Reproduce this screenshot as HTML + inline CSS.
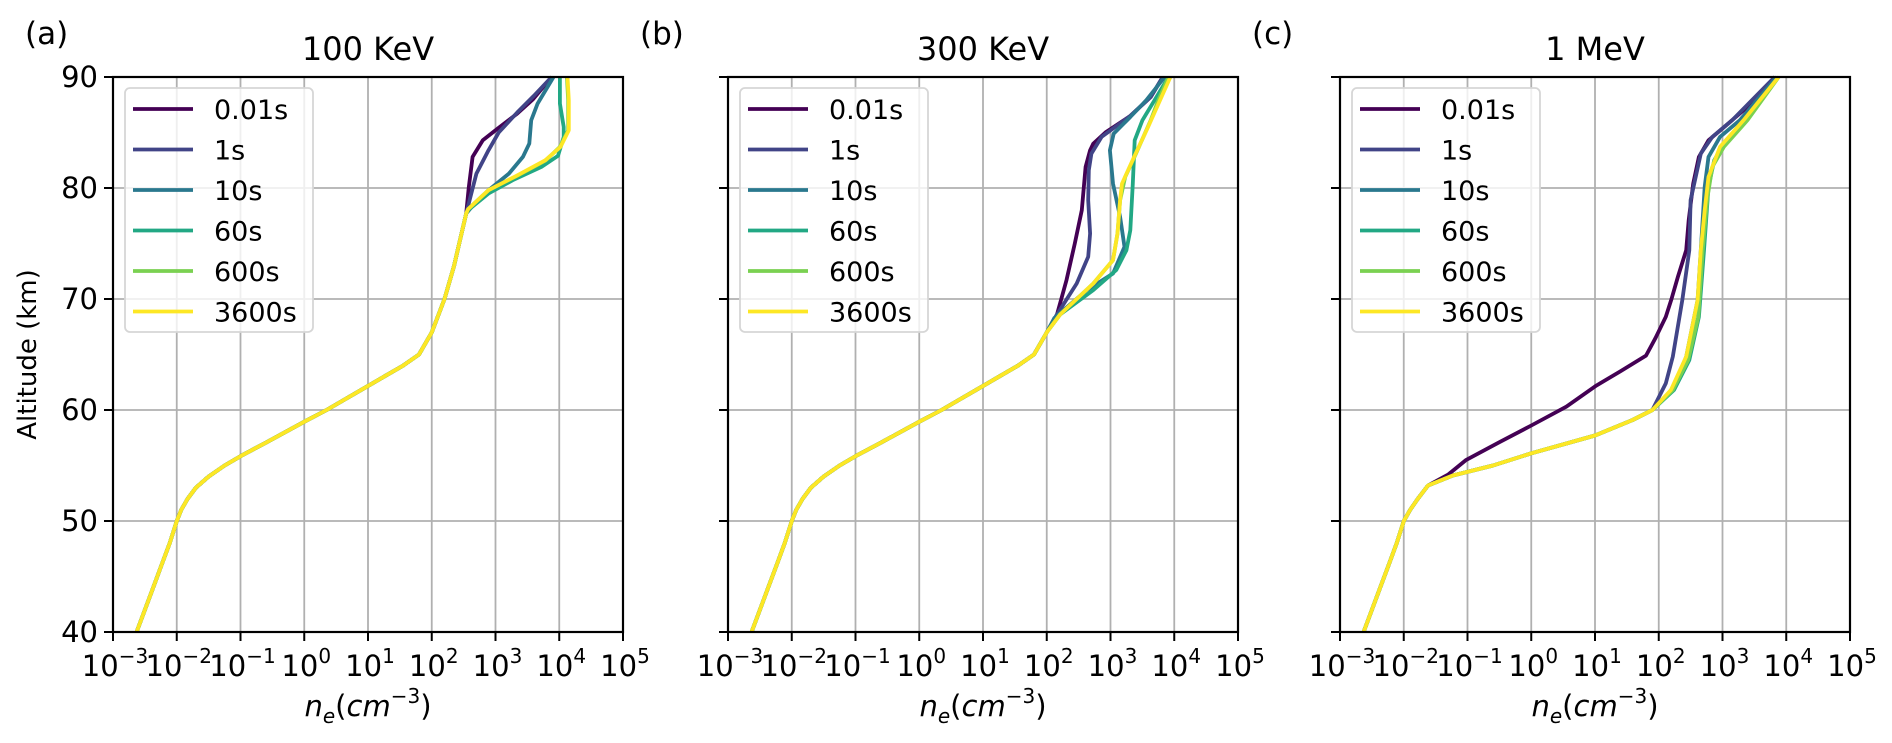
<!DOCTYPE html>
<html><head><meta charset="utf-8">
<style>
html,body{margin:0;padding:0;background:#fff;}
svg{display:block;font-family:"DejaVu Sans","Liberation Sans",sans-serif;}
</style></head>
<body>
<svg id="fig" width="1892" height="743" viewBox="0 0 1892 743" xmlns="http://www.w3.org/2000/svg"></svg>
<script>
// ---- data (log10 of n_e in cm^-3 vs altitude in km) ----
const seriesNames = ["0.01s","1s","10s","60s","600s","3600s"];
const panelTitles = ["100 KeV","300 KeV","1 MeV"];
const panelLetters = ["(a)","(b)","(c)"];
const xTickExps = [-3,-2,-1,0,1,2,3,4,5];
const yTicks = [40,50,60,70,80,90];

const baseAlt = [40,42,44,46,48,50,51,52,53,54,55,56,57,58,59,60,61,62,63,64,65];
const baseLog = [-2.63,-2.50,-2.37,-2.24,-2.11,-2.0,-1.93,-1.83,-1.70,-1.50,-1.25,-0.95,-0.62,-0.3,0.02,0.35,0.65,0.95,1.25,1.55,1.8];

// panel (a)
const aMidAlt = [67,70,73,75,77.7];
const aMidLog = [2.0,2.2,2.35,2.43,2.54];
const aAlt001 = [80,82.8,84.3,85.3,86.7,88,90];
const aLog001 = [2.58,2.64,2.80,3.02,3.34,3.59,3.88];
const aAlt1 = [79.5,81.3,83.4,85,86.8,88.3,90];
const aLog1 = [2.62,2.70,2.89,3.05,3.34,3.6,3.88];
const aAlt10 = [78.6,79.8,81.3,82.8,84,86.1,87.6,90];
const aLog10 = [2.67,2.89,3.21,3.43,3.53,3.56,3.66,3.91];
const aAlt60 = [78,79.5,80.7,81.9,82.9,84.6,85.5,87.6,90];
const aLog60 = [2.57,2.89,3.27,3.72,3.98,4.07,4.07,4.01,4.01];
const aAlt600 = [78.1,79.8,81.1,82.5,83.7,85.2,87.9,90];
const aLog600 = [2.57,2.89,3.34,3.79,4.01,4.14,4.14,4.12];
const aAlt3600 = [78.1,79.8,81.1,82.5,83.7,85.2,87.9,90];
const aLog3600 = [2.57,2.89,3.33,3.78,4.02,4.15,4.15,4.13];

// panel (b)
const bMidAlt = [67];
const bMidLog = [2.0];
const bAlt001 = [68.6,71.7,75,78,81.9,83.4,84,85,86.5,88.2,90];
const bLog001 = [2.16,2.31,2.44,2.55,2.61,2.68,2.73,2.92,3.31,3.63,3.82];
const bAlt1 = [68.6,71.4,73.8,75.9,78.9,81.6,83.1,84.6,86.5,88.2,90];
const bLog1 = [2.16,2.47,2.65,2.68,2.65,2.66,2.70,2.86,3.31,3.63,3.82];
const bAlt10 = [68.3,70.8,72.3,74.7,77.4,80.4,83.4,84.9,86.4,87.9,90];
const bLog10 = [2.12,2.63,3.04,3.22,3.15,3.04,2.99,3.05,3.31,3.56,3.85];
const bAlt60 = [68.6,70.8,72.6,74.4,76.2,80.4,84.3,86.1,87.9,90];
const bLog60 = [2.21,2.73,3.09,3.25,3.31,3.35,3.38,3.50,3.69,3.91];
const bAlt600 = [68.6,71.4,73.5,75.9,78.9,81,83.1,86.1,87.9,90];
const bLog600 = [2.21,2.73,3.04,3.11,3.15,3.23,3.40,3.63,3.75,3.91];
const bAlt3600 = [68.6,71.4,73.5,75.9,78.9,80.4,82.8,85.5,90];
const bLog3600 = [2.21,2.73,3.04,3.11,3.15,3.18,3.37,3.59,3.94];

// panel (c)
const cLowAlt = [40,42,44,46,48,50,51,52,53.2];
const cLowLog = [-2.63,-2.50,-2.37,-2.24,-2.11,-2.0,-1.9,-1.78,-1.62];
const cAlt001 = [54.2,55.5,57.1,58.6,60.3,62.2,63.5,64.9,66.5,68.4,70,72,74.4,77.1,80.4,82.8,84.3,85.8,87.9,90];
const cLog001 = [-1.3,-1.02,-0.5,0,0.55,1.02,1.4,1.8,1.95,2.11,2.2,2.3,2.43,2.47,2.54,2.63,2.78,3.09,3.51,3.82];
const cMidAlt = [54.1,55,56.1,57.7,59.1,60];
const cMidLog = [-1.23,-0.6,0,1.0,1.59,1.90];
const cAlt1 = [62.4,64.8,69.9,74.4,78.9,83.1,84.6,86.1,90];
const cLog1 = [2.11,2.22,2.37,2.48,2.50,2.66,2.84,3.15,3.82];
const cAlt10 = [61.8,64.8,69.9,74.4,80.1,82.8,84.6,86.1,90];
const cLog10 = [2.22,2.43,2.61,2.66,2.72,2.78,2.96,3.27,3.85];
const cAlt60 = [61.8,64.5,68.4,74.4,80.1,82.5,84,86.4,90];
const cLog60 = [2.24,2.48,2.63,2.71,2.78,2.87,3.02,3.39,3.88];
const cAlt600 = [61.8,64.5,68.4,74.4,79,81.9,83.7,86.1,90];
const cLog600 = [2.22,2.46,2.62,2.69,2.76,2.84,3.02,3.39,3.88];
const cAlt3600 = [61.8,64.8,69.9,74.4,78,81,83.7,86.1,90];
const cLog3600 = [2.19,2.43,2.61,2.66,2.72,2.78,2.96,3.33,3.88];

const colors = ["#440154","#414487","#2a788e","#22a884","#7ad151","#fde725"];

// ---- layout ----
const NS = "http://www.w3.org/2000/svg";
const svg = document.getElementById("fig");
const panelLefts = [113,728,1340];
const PW = 510, PT = 77, PB = 632;
function mk(tag, attrs, parent){
  const e = document.createElementNS(NS, tag);
  for (const k in attrs) e.setAttribute(k, attrs[k]);
  (parent||svg).appendChild(e);
  return e;
}
function xScale(left, lg){ return left + (lg + 3) / 8 * PW; }
function yScale(alt){ return PB - (alt - 40) / 50 * (PB - PT); }

const panelSeries = [
  [[baseAlt.concat(aMidAlt,aAlt001), baseLog.concat(aMidLog,aLog001)],
   [baseAlt.concat(aMidAlt,aAlt1), baseLog.concat(aMidLog,aLog1)],
   [baseAlt.concat(aMidAlt,aAlt10), baseLog.concat(aMidLog,aLog10)],
   [baseAlt.concat(aMidAlt,aAlt60), baseLog.concat(aMidLog,aLog60)],
   [baseAlt.concat(aMidAlt,aAlt600), baseLog.concat(aMidLog,aLog600)],
   [baseAlt.concat(aMidAlt,aAlt3600), baseLog.concat(aMidLog,aLog3600)]],
  [[baseAlt.concat(bMidAlt,bAlt001), baseLog.concat(bMidLog,bLog001)],
   [baseAlt.concat(bMidAlt,bAlt1), baseLog.concat(bMidLog,bLog1)],
   [baseAlt.concat(bMidAlt,bAlt10), baseLog.concat(bMidLog,bLog10)],
   [baseAlt.concat(bMidAlt,bAlt60), baseLog.concat(bMidLog,bLog60)],
   [baseAlt.concat(bMidAlt,bAlt600), baseLog.concat(bMidLog,bLog600)],
   [baseAlt.concat(bMidAlt,bAlt3600), baseLog.concat(bMidLog,bLog3600)]],
  [[cLowAlt.concat(cAlt001), cLowLog.concat(cLog001)],
   [cLowAlt.concat(cMidAlt,cAlt1), cLowLog.concat(cMidLog,cLog1)],
   [cLowAlt.concat(cMidAlt,cAlt10), cLowLog.concat(cMidLog,cLog10)],
   [cLowAlt.concat(cMidAlt,cAlt60), cLowLog.concat(cMidLog,cLog60)],
   [cLowAlt.concat(cMidAlt,cAlt600), cLowLog.concat(cMidLog,cLog600)],
   [cLowAlt.concat(cMidAlt,cAlt3600), cLowLog.concat(cMidLog,cLog3600)]]
];

// y label
const yl = mk("text",{x:36,y:(PT+PB)/2,"font-size":26,"text-anchor":"middle",fill:"#000",
  transform:"rotate(-90 36 "+((PT+PB)/2)+")"});


yl.textContent = "Altitude (km)";

for (let p = 0; p < 3; p++){
  const L = panelLefts[p];
  const g = mk("g",{});
  
  
  // grid
  xTickExps.forEach(function(ex){
    const x = xScale(L, ex);
    const gl = mk("line",{x1:x,x2:x,y1:PT,y2:PB,stroke:"#b0b0b0","stroke-width":1.8},g);
    
    
  });
  yTicks.forEach(function(t){
    const y = yScale(t);
    const gl = mk("line",{x1:L,x2:L+PW,y1:y,y2:y,stroke:"#b0b0b0","stroke-width":1.8},g);
    
    
  });
  // series
  panelSeries[p].forEach(function(s, i){
    const pts = s[0].map(function(a, k){ return xScale(L, s[1][k]).toFixed(1)+","+yScale(a).toFixed(1); }).join(" ");
    const pl = mk("polyline",{points:pts,fill:"none",stroke:colors[i],"stroke-width":3.8,"stroke-linejoin":"round","stroke-linecap":"butt"},g);
    
    
  });
  // spines
  const sp = mk("rect",{x:L,y:PT,width:PW,height:PB-PT,fill:"none",stroke:"#000","stroke-width":2.2},g);
  
  
  // x ticks + labels
  xTickExps.forEach(function(ex){
    const x = xScale(L, ex);
    mk("line",{x1:x,x2:x,y1:PB,y2:PB+9,stroke:"#000","stroke-width":2},g);
    const t = mk("text",{x:x+2,y:676,"font-size":29,"text-anchor":"middle",fill:"#000"},g);
    
    
    const b = document.createElementNS(NS,"tspan"); b.textContent = "10"; t.appendChild(b);
    const s2 = document.createElementNS(NS,"tspan");
    s2.setAttribute("dy",-13); s2.setAttribute("font-size",20);
    s2.textContent = (ex < 0 ? "\u2212" + (-ex) : String(ex)); t.appendChild(s2);
  });
  // y ticks + labels
  yTicks.forEach(function(tv){
    const y = yScale(tv);
    mk("line",{x1:L-9,x2:L,y1:y,y2:y,stroke:"#000","stroke-width":2},g);
    if (p === 0){
      const t = mk("text",{x:L-15,y:y+10,"font-size":29,"text-anchor":"end",fill:"#000"},g);
      
      
      t.textContent = tv;
    }
  });
  // title
  const ti = mk("text",{x:L+PW/2,y:60,"font-size":32,"text-anchor":"middle",fill:"#000"},g);
  
  
  ti.textContent = panelTitles[p];
  const le = mk("text",{x:L-88,y:44,"font-size":31,"text-anchor":"start",fill:"#000"},g);
  
  
  le.textContent = panelLetters[p];
  // x label
  const xl = mk("text",{x:L+PW/2,y:716,"font-size":29,"text-anchor":"middle",fill:"#000"},g);
  
  
  xl.innerHTML = '<tspan font-style="italic">n</tspan><tspan font-style="italic" font-size="20" dy="7">e</tspan><tspan dy="-7">(</tspan><tspan font-style="italic">cm</tspan><tspan font-size="20" dy="-13">\u22123</tspan><tspan dy="13">)</tspan>';
  // legend
  const lg = mk("g",{},g);
  
  
  mk("rect",{x:L+12,y:88,width:188,height:244,rx:5,fill:"#fff","fill-opacity":0.8,stroke:"#d6d6d6","stroke-width":1.8},lg);
  seriesNames.forEach(function(n, i){
    const yy = 109 + i*40.5;
    const e = mk("g",{},lg);
    
    
    mk("line",{x1:L+20,x2:L+80,y1:yy,y2:yy,stroke:colors[i],"stroke-width":3.8},e);
    const tx = mk("text",{x:L+101,y:yy+10,"font-size":27,fill:"#000"},e);
    tx.textContent = n;
  });
}
</script>
</body></html>
